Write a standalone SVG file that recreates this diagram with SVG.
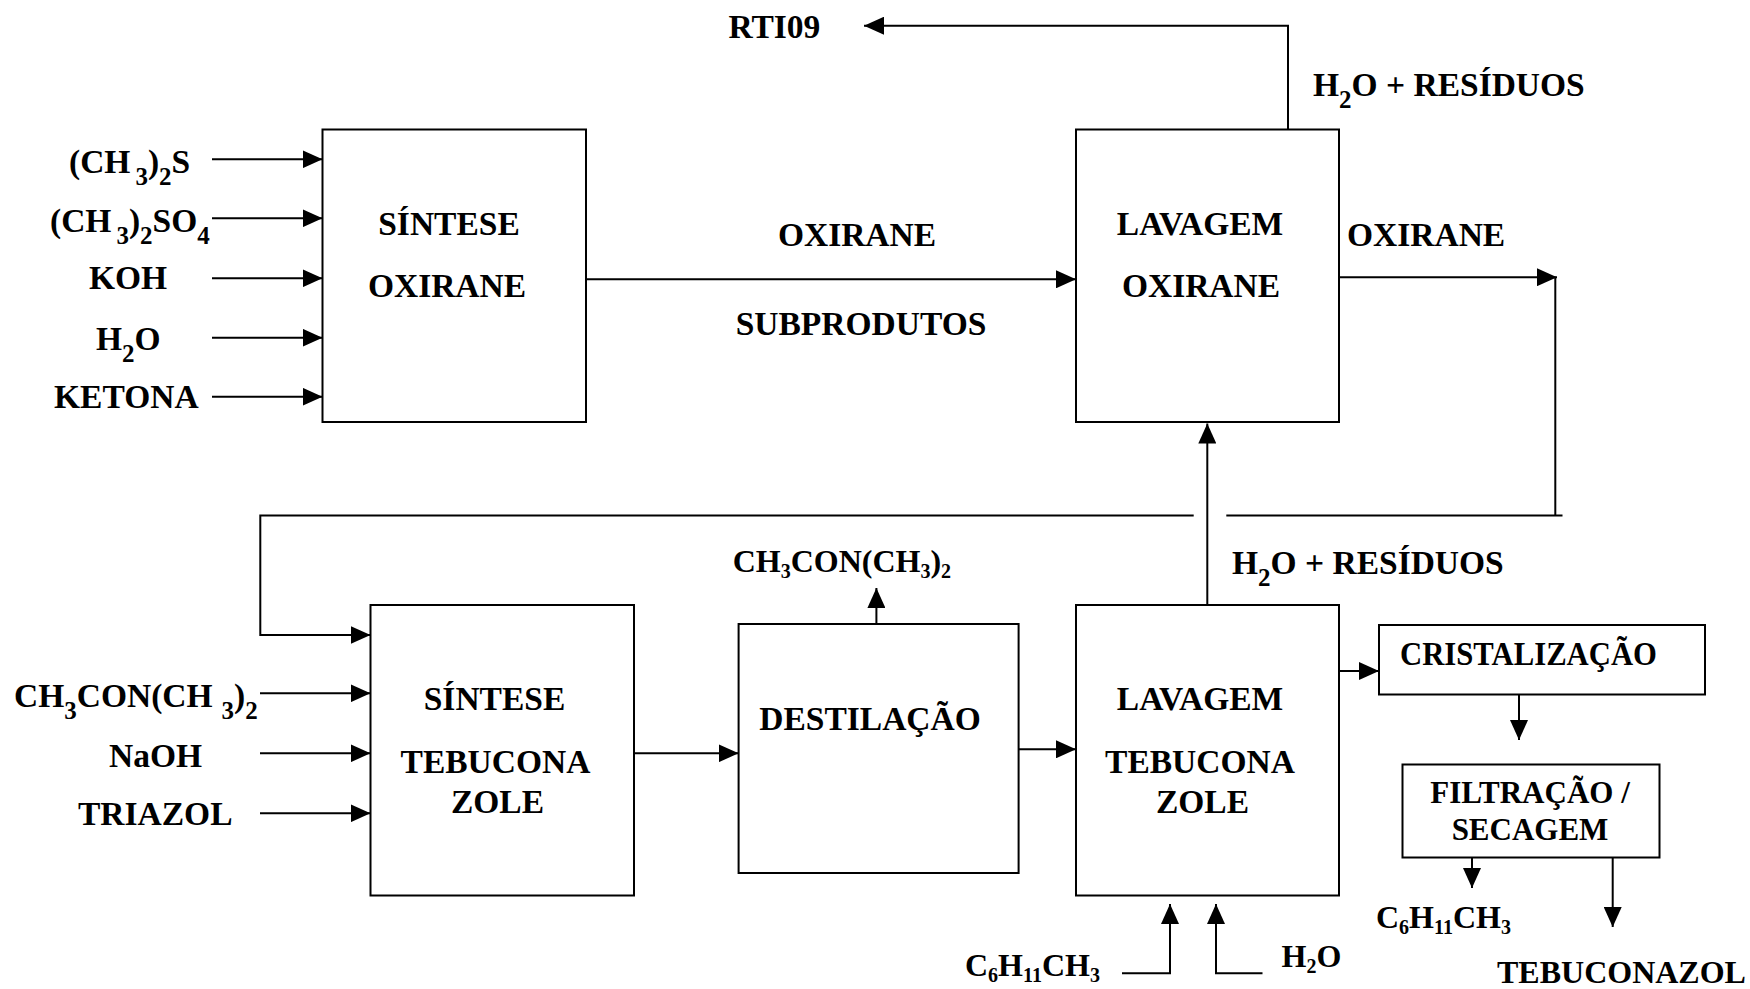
<svg xmlns="http://www.w3.org/2000/svg" width="1750" height="989" viewBox="0 0 1750 989">
<style>
.box{fill:#fff;stroke:#000;stroke-width:2}
.ln{fill:none;stroke:#000;stroke-width:2}
.t{font-family:"Liberation Serif","Times New Roman",serif;font-weight:bold;font-size:33.5px;fill:#000}
.s{font-size:31px}
.f{font-size:32px}
.sub{font-size:25px}
.sm{font-size:20px}
.m{text-anchor:middle}
</style>
<defs>
<marker id="ah" markerUnits="userSpaceOnUse" markerWidth="20" markerHeight="18" refX="20" refY="9" orient="auto"><path d="M0,0 L20,9 L0,18 z" fill="#000"/></marker>
</defs>
<rect width="1750" height="989" fill="#fff"/>
<g id="connectors">
<path class="ln" marker-end="url(#ah)" d="M212,159.3 H322.5"/>
<path class="ln" marker-end="url(#ah)" d="M212,218.3 H322.5"/>
<path class="ln" marker-end="url(#ah)" d="M212,278.3 H322.5"/>
<path class="ln" marker-end="url(#ah)" d="M212,337.7 H322.5"/>
<path class="ln" marker-end="url(#ah)" d="M212,396.7 H322.5"/>
<path class="ln" marker-end="url(#ah)" d="M586,279.3 H1076"/>
<path class="ln" marker-end="url(#ah)" d="M1288,129.5 V25.7 H864"/>
<path class="ln" marker-end="url(#ah)" d="M1339,277.2 H1557"/>
<path class="ln" d="M1555.3,277.2 V515.6"/>
<path class="ln" d="M1562.5,515.6 H1226.3"/>
<path class="ln" marker-end="url(#ah)" d="M1193.7,515.6 H260.3 V635 H370.5"/>
<path class="ln" marker-end="url(#ah)" d="M1207.3,605 V423.5"/>
<path class="ln" marker-end="url(#ah)" d="M260,693.3 H370.5"/>
<path class="ln" marker-end="url(#ah)" d="M260,753.3 H370.5"/>
<path class="ln" marker-end="url(#ah)" d="M260,813.3 H370.5"/>
<path class="ln" marker-end="url(#ah)" d="M634,753.3 H738.6"/>
<path class="ln" marker-end="url(#ah)" d="M876.4,624 V588"/>
<path class="ln" marker-end="url(#ah)" d="M1018.7,749.3 H1076"/>
<path class="ln" marker-end="url(#ah)" d="M1333,671 H1379"/>
<path class="ln" marker-end="url(#ah)" d="M1519,695 V740"/>
<path class="ln" marker-end="url(#ah)" d="M1122,973.3 H1170 V904"/>
<path class="ln" marker-end="url(#ah)" d="M1262.5,973.3 H1216 V904"/>
<path class="ln" marker-end="url(#ah)" d="M1472,858 V888"/>
<path class="ln" marker-end="url(#ah)" d="M1612.7,857 V927"/>
</g>
<g id="sintese-oxirane">
<rect class="box" x="322.5" y="129.5" width="263.5" height="292.5"/>
<text class="t m" x="449" y="235">SÍNTESE</text>
<text class="t m" x="447" y="297">OXIRANE</text>
</g>
<g id="lavagem-oxirane">
<rect class="box" x="1076" y="129.5" width="263" height="292.5"/>
<text class="t m" x="1200" y="235">LAVAGEM</text>
<text class="t m" x="1201" y="297">OXIRANE</text>
</g>
<g id="sintese-tebuconazole">
<rect class="box" x="370.5" y="605" width="263.5" height="290.5"/>
<text class="t m" x="494.5" y="710">SÍNTESE</text>
<text class="t m" x="495.5" y="773.3">TEBUCONA</text>
<text class="t m" x="497.5" y="813.3">ZOLE</text>
</g>
<g id="destilacao">
<rect class="box" x="738.6" y="624" width="280" height="249"/>
<text class="t m" x="870" y="730">DESTILAÇÃO</text>
</g>
<g id="lavagem-tebuconazole">
<rect class="box" x="1076" y="605" width="263" height="290.5"/>
<text class="t m" x="1200" y="710">LAVAGEM</text>
<text class="t m" x="1200" y="773.3">TEBUCONA</text>
<text class="t m" x="1202.5" y="813.3">ZOLE</text>
</g>
<g id="cristalizacao">
<rect class="box" x="1379" y="625" width="326" height="69.5"/>
<text class="t m" x="1528.5" y="665" textLength="257" lengthAdjust="spacingAndGlyphs">CRISTALIZAÇÃO</text>
</g>
<g id="filtracao">
<rect class="box" x="1402.5" y="764.5" width="257" height="93"/>
<text class="t s m" x="1530" y="803.3">FILTRAÇÃO /</text>
<text class="t s m" x="1530" y="840">SECAGEM</text>
</g>
<g id="labels">
<text class="t" x="69" y="173">(CH<tspan class="sub" dx="5" dy="12">3</tspan><tspan dy="-12">)</tspan><tspan class="sub" dy="12">2</tspan><tspan dy="-12">S</tspan></text>
<text class="t" x="50" y="231.7">(CH<tspan class="sub" dx="5" dy="12">3</tspan><tspan dy="-12">)</tspan><tspan class="sub" dy="12">2</tspan><tspan dy="-12">SO</tspan><tspan class="sub" dy="12">4</tspan></text>
<text class="t" x="89" y="289">KOH</text>
<text class="t" x="96" y="350">H<tspan class="sub" dy="12">2</tspan><tspan dy="-12">O</tspan></text>
<text class="t" x="54" y="408">KETONA</text>
<text class="t" x="728.4" y="38.3">RTI09</text>
<text class="t m" x="857" y="246">OXIRANE</text>
<text class="t m" x="861" y="335">SUBPRODUTOS</text>
<text class="t" x="1313" y="96">H<tspan class="sub" dy="12">2</tspan><tspan dy="-12">O + RESÍDUOS</tspan></text>
<text class="t" x="1347" y="245.6">OXIRANE</text>
<text class="t" x="14" y="706.5">CH<tspan class="sub" dy="12">3</tspan><tspan dy="-12">CON(CH</tspan><tspan class="sub" dx="9" dy="12">3</tspan><tspan dy="-12">)</tspan><tspan class="sub" dy="12">2</tspan></text>
<text class="t" x="109" y="766.7">NaOH</text>
<text class="t" x="78" y="825">TRIAZOL</text>
<text class="t f" x="732.7" y="571.7">CH<tspan class="sm" dy="6">3</tspan><tspan dy="-6">CON(CH</tspan><tspan class="sm" dy="6">3</tspan><tspan dy="-6">)</tspan><tspan class="sm" dy="6">2</tspan></text>
<text class="t" x="1232" y="574.3">H<tspan class="sub" dy="12">2</tspan><tspan dy="-12">O + RESÍDUOS</tspan></text>
<text class="t f" x="965" y="975.5">C<tspan class="sm" dy="6">6</tspan><tspan dy="-6">H</tspan><tspan class="sm" dy="6">11</tspan><tspan dy="-6">CH</tspan><tspan class="sm" dy="6">3</tspan></text>
<text class="t f" x="1281.5" y="966.5">H<tspan class="sm" dy="6">2</tspan><tspan dy="-6">O</tspan></text>
<text class="t f" x="1376" y="928.3">C<tspan class="sm" dy="6">6</tspan><tspan dy="-6">H</tspan><tspan class="sm" dy="6">11</tspan><tspan dy="-6">CH</tspan><tspan class="sm" dy="6">3</tspan></text>
<text class="t f" x="1497" y="983.3">TEBUCONAZOL</text>
</g>
</svg>
